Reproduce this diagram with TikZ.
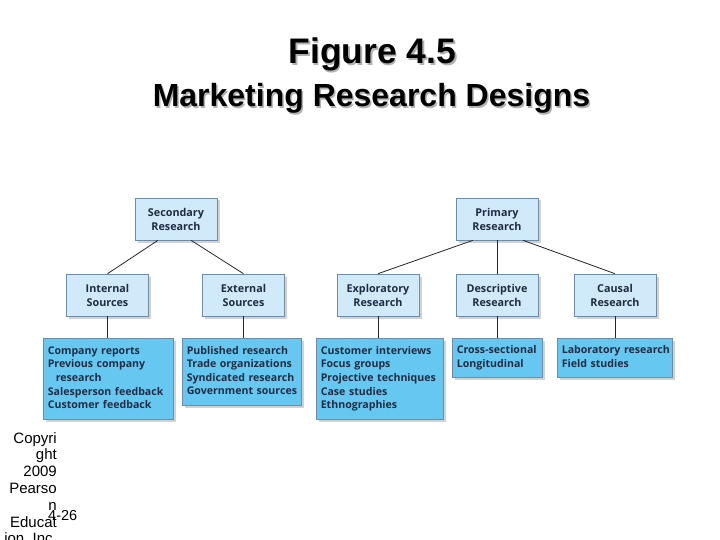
\documentclass[tikz,border=0pt]{standalone}
\usepackage{fontspec}
\setmainfont{Liberation Sans}
\newfontfamily\boxfont{Open Sans}
\usetikzlibrary{shadows}
\definecolor{paleblue}{RGB}{208,234,249}
\definecolor{skyblue}{RGB}{102,200,241}
\definecolor{boxedge}{RGB}{110,140,168}
\definecolor{inkblue}{RGB}{32,44,68}
\newcommand{\itemlines}[1]{\begin{tabular}{@{}l@{}}#1\end{tabular}}

\begin{document}
\begin{tikzpicture}[x=1pt, y=-1pt,
    design/.style={rectangle, draw=boxedge, line width=0.6pt, fill=paleblue, minimum width=82, minimum height=42, align=center, inner sep=2, text=inkblue, font=\boxfont\bfseries\fontsize{10.8}{14}\selectfont, drop shadow={shadow xshift=2.5pt, shadow yshift=-2.5pt, fill=black!35, opacity=0.5}},
    methods/.style={rectangle, draw=boxedge, line width=0.6pt, fill=skyblue, anchor=north west, align=left, inner xsep=4.5, inner ysep=3, text=inkblue, font=\boxfont\bfseries\fontsize{10.6}{13.6}\selectfont, drop shadow={shadow xshift=2.5pt, shadow yshift=-2.5pt, fill=black!35, opacity=0.5}},
    link/.style={draw=black!85, line width=0.8pt},
]

\useasboundingbox (0,0) rectangle (720,540);

% Title with shadow
\node[anchor=base, text=black!30, font=\bfseries\fontsize{35.5}{40}\selectfont] (titleshade) at (374,66) {Figure 4.5};
\node[anchor=base, font=\bfseries\fontsize{35.5}{40}\selectfont] (title) at (372.5,64) {Figure 4.5};
\node[anchor=base, text=black!30, font=\bfseries\fontsize{32}{36}\selectfont] (subshade) at (373,108.5) {Marketing Research Designs};
\node[anchor=base, font=\bfseries\fontsize{32}{36}\selectfont] (subtitle) at (371.5,107) {Marketing Research Designs};

% Top level
\node[design] (sec) at (176,219) {Secondary\\Research};
\node[design] (pri) at (497,219) {Primary\\Research};

% Second level
\node[design] (int) at (107.5,295) {Internal\\Sources};
\node[design] (ext) at (243.5,295) {External\\Sources};
\node[design] (exp) at (378,295) {Exploratory\\Research};
\node[design] (des) at (497,295) {Descriptive\\Research};
\node[design] (cau) at (615,295) {Causal\\Research};

% Method lists
\node[methods, text width=121, minimum height=81] (intlist) at (43,338) {\itemlines{Company reports\\Previous company\\\hspace*{8pt}research\\Salesperson feedback\\Customer feedback}};
\node[methods, text width=110, minimum height=67] (extlist) at (182,338) {\itemlines{Published research\\Trade organizations\\Syndicated research\\Government sources}};
\node[methods, text width=118, minimum height=81] (explist) at (316,338) {\itemlines{Customer interviews\\Focus groups\\Projective techniques\\Case studies\\Ethnographies}};
\node[methods, text width=81, minimum height=39] (deslist) at (452,338) {\itemlines{Cross-sectional\\Longitudinal}};
\node[methods, text width=106, minimum height=39] (caulist) at (557,338) {\itemlines{Laboratory research\\Field studies}};

% Connectors
\draw[link] ([xshift=-18]sec.south) -- (int.north);
\draw[link] ([xshift=15]sec.south) -- (ext.north);
\draw[link] ([xshift=-24]pri.south) -- (exp.north);
\draw[link] (pri.south) -- (des.north);
\draw[link] ([xshift=26]pri.south) -- (cau.north);
\draw[link] (int.south) -- (int.south |- intlist.north);
\draw[link] (ext.south) -- (ext.south |- extlist.north);
\draw[link] (exp.south) -- (exp.south |- explist.north);
\draw[link] (des.south) -- (des.south |- deslist.north);
\draw[link] (cau.south) -- (cau.south |- caulist.north);

% Footer
\node[anchor=north east, align=right, inner sep=0, font=\fontsize{15}{16.8}\selectfont] (copy) at (57,432) {Copyri\\ght\\2009\\Pearso\\n\\Educat\\ion, Inc.};
\node[anchor=base west, inner sep=0, font=\fontsize{14.5}{16}\selectfont] (page) at (48,520) {4-26};

\end{tikzpicture}
\end{document}
